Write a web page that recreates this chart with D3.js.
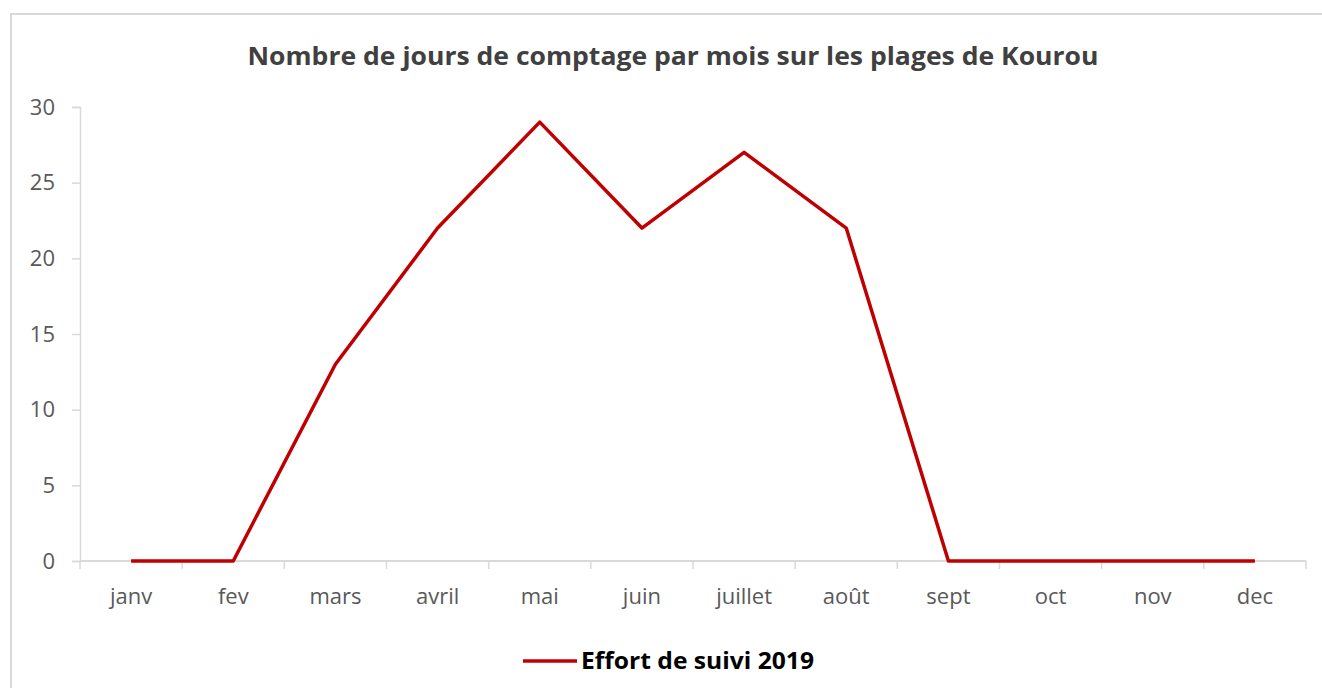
<!DOCTYPE html>
<html>
<head>
<meta charset="utf-8">
<script src="https://cdn.jsdelivr.net/npm/d3@7"></script>
<style>
  body { margin: 0; background: #fff; }
</style>
</head>
<body>
<div id="chart"></div>
<script>
// Data
const months = ['janv', 'fev', 'mars', 'avril', 'mai', 'juin', 'juillet', 'août', 'sept', 'oct', 'nov', 'dec'];
const effort2019 = [0, 0, 13, 22, 29, 22, 27, 22, 0, 0, 0, 0];
const yTicks = [0, 5, 10, 15, 20, 25, 30];
const seriesName = 'Effort de suivi 2019';
const title = 'Nombre de jours de comptage par mois sur les plages de Kourou';

var width = 1322, height = 688;
var margin = {top: 107, right: 16, bottom: 127, left: 80};

var svg = d3.select('#chart').append('svg')
    .attr('width', width)
    .attr('height', height)
    .style('font-family', 'Open Sans');

// outer frame
svg.append('rect')
    .attr('x', 11).attr('y', 14)
    .attr('width', width).attr('height', height)
    .attr('fill', 'none')
    .attr('stroke', '#d9d9d9')
    .attr('stroke-width', 2);

var x = d3.scaleBand()
    .domain(months)
    .range([margin.left, width - margin.right]);

var y = d3.scaleLinear()
    .domain([0, 30])
    .range([height - margin.bottom, margin.top]);

// title
svg.append('text')
    .attr('x', 673).attr('y', 65)
    .attr('text-anchor', 'middle')
    .attr('textLength', 851)
    .attr('lengthAdjust', 'spacingAndGlyphs')
    .style('font-weight', 700)
    .style('font-size', '25px')
    .style('fill', '#404040')
    .text(title);

// y axis
var yAxis = svg.append('g')
    .attr('transform', 'translate(' + margin.left + ',0)')
    .call(d3.axisLeft(y).tickValues(yTicks).tickSize(8).tickPadding(17));
yAxis.select('.domain').attr('stroke', '#d9d9d9').attr('stroke-width', 1.5);
yAxis.selectAll('.tick line').attr('stroke', '#d9d9d9').attr('stroke-width', 1.5);
yAxis.selectAll('.tick text')
    .style('font-size', '22px')
    .style('font-family', 'Open Sans')
    .attr('fill', '#595959');

// x axis (ticks on band boundaries)
var xAxisG = svg.append('g')
    .attr('transform', 'translate(0,' + y(0) + ')');
xAxisG.append('line')
    .attr('x1', x.range()[0]).attr('x2', x.range()[1])
    .attr('stroke', '#d9d9d9').attr('stroke-width', 2);
var bounds = months.map(m => x(m)).concat([x.range()[1]]);
xAxisG.selectAll('.btick')
    .data(bounds)
    .enter().append('line')
    .attr('class', 'btick')
    .attr('x1', d => d).attr('x2', d => d)
    .attr('y1', 0).attr('y2', 8)
    .attr('stroke', '#d9d9d9').attr('stroke-width', 1.5);
xAxisG.selectAll('.xlabel')
    .data(months)
    .enter().append('text')
    .attr('class', 'xlabel')
    .attr('x', d => x(d) + x.bandwidth() / 2)
    .attr('y', 43)
    .attr('text-anchor', 'middle')
    .style('font-size', '22px')
    .style('fill', '#595959')
    .text(d => d);

// line
var line = d3.line()
    .x((d, i) => x(months[i]) + x.bandwidth() / 2)
    .y(d => y(d));

svg.append('path')
    .datum(effort2019)
    .attr('d', line)
    .attr('fill', 'none')
    .attr('stroke', '#c00000')
    .attr('stroke-width', 3.5)
    .attr('stroke-linejoin', 'round');

// legend
var legend = svg.append('g').attr('transform', 'translate(523,661)');
legend.append('line')
    .attr('x1', 0).attr('x2', 54)
    .attr('stroke', '#c00000')
    .attr('stroke-width', 3.5);
legend.append('text')
    .attr('x', 58).attr('y', 8)
    .attr('textLength', 233)
    .attr('lengthAdjust', 'spacingAndGlyphs')
    .style('font-size', '23px')
    .style('font-weight', 700)
    .style('fill', '#000')
    .text(seriesName);
</script>
</body>
</html>
